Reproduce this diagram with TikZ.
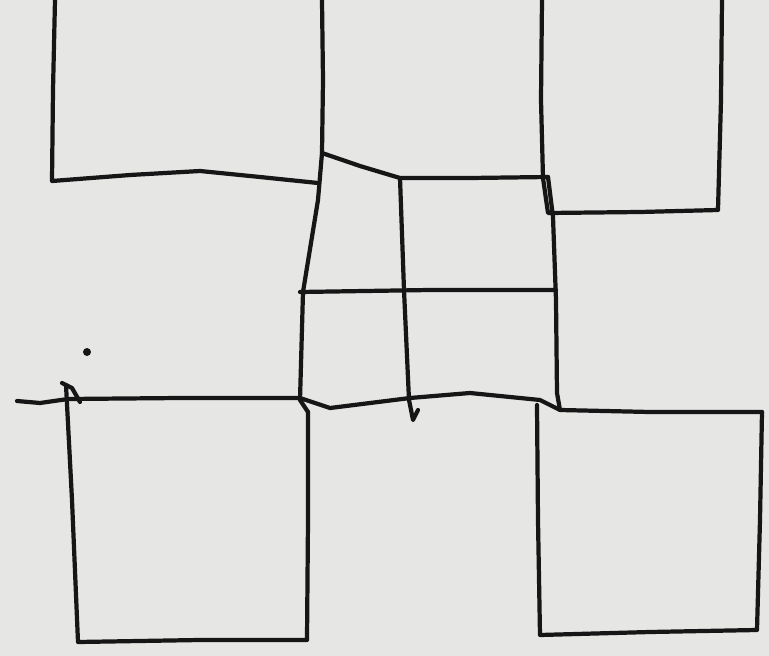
\documentclass[tikz,border=0pt]{standalone}
\usepackage{xcolor}
\usepackage{tikz}
\usetikzlibrary{calc}
\definecolor{paper}{RGB}{230,230,229}
\definecolor{ink}{RGB}{22,22,22}
\tikzset{pen/.style={draw=ink,line width=2.4pt,line join=round,line cap=round}}
\newcommand{\inkline}[1]{\draw[pen] #1;}

\begin{document}
\begin{tikzpicture}[x=0.02cm,y=-0.02cm]
\fill[paper] (0,0) rectangle (769,656);
\useasboundingbox (0,0) rectangle (769,656);
% top row
\inkline{(55,0) -- (53,90) -- (52,181) -- (130,175) -- (200,171) -- (260,177) -- (318,183)}
\inkline{(322,0) -- (323,80) -- (322,153)}
\inkline{(322,153) -- (360,166) -- (400,178) -- (470,178) -- (548,177)}
\inkline{(542,0) -- (541,100) -- (543,178) -- (548,213) -- (640,212) -- (718,210) -- (721,100) -- (722,0)}
% centre grid
\inkline{(322,153) -- (318,200) -- (303,292) -- (300,400) -- (308,412)}
\inkline{(400,178) -- (404,290) -- (409,400) -- (413,420) -- (418,410)}
\inkline{(300,292) -- (430,290) -- (556,290)}
\inkline{(548,177) -- (553,217) -- (556,300) -- (557,393) -- (560,410)}
% long line over the bottom squares
\inkline{(17,401) -- (40,403) -- (68,399) -- (180,398) -- (300,398) -- (330,408) -- (410,398) -- (470,393) -- (540,400) -- (560,410) -- (650,412) -- (762,412)}
% bottom row
\inkline{(62,383) -- (72,388) -- (80,402)}
\inkline{(66,385) -- (72,500) -- (78,642) -- (200,640) -- (307,640) -- (308,520) -- (308,412)}
\inkline{(537,405) -- (538,520) -- (540,635) -- (650,632) -- (757,630) -- (760,520) -- (762,412)}
\fill[ink] (87,352) circle (4);
\end{tikzpicture}
\end{document}
